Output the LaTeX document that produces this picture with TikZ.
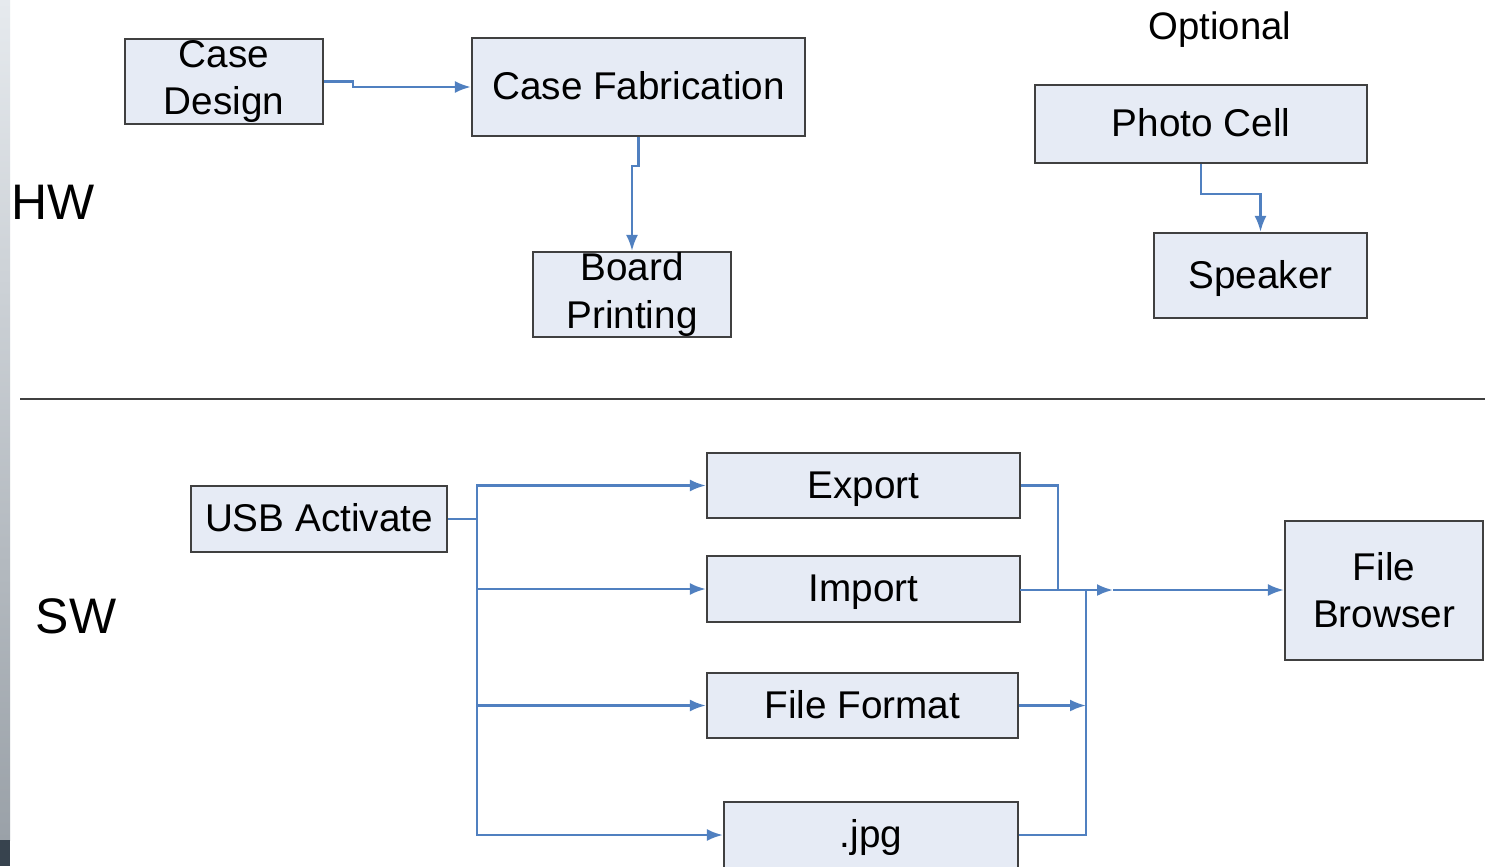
\documentclass[tikz,border=0pt]{standalone}
\usepackage{fontspec}
\setmainfont{Liberation Sans}
\usetikzlibrary{arrows.meta,positioning}
\definecolor{boxfill}{HTML}{E6EBF5}
\definecolor{boxline}{HTML}{404040}
\definecolor{linkblue}{HTML}{5080C0}
\definecolor{edgelight}{HTML}{E6EAEE}
\definecolor{edgegray}{HTML}{9AA1A8}
\definecolor{edgedark}{HTML}{37434E}

\tikzset{
  block/.style={draw=boxline,fill=boxfill,line width=0.6pt,inner sep=0pt,
    align=center,font=\fontsize{11}{13.4}\selectfont},
  oneline/.style={text height=9.2pt,text depth=2pt},
  link/.style={draw=linkblue,line width=0.7pt},
  tip/.style={-{Latex[length=1.6mm,width=1.2mm]}},
  side/.style={inner sep=0pt,font=\fontsize{14.2}{16}\selectfont}
}

\begin{document}
\begin{tikzpicture}[x=0.01cm,y=-0.01cm]
\useasboundingbox (0,0) rectangle (1485,866);
\clip (0,0) rectangle (1485,866);
\fill[white] (0,0) rectangle (1485,866);
% slide edge
\shade[top color=edgelight,bottom color=edgegray] (0,0) rectangle (10,840);
\fill[edgedark] (0,840) rectangle (10,866);

% hardware
\node[side] (hw) at (53,202) {HW};
\node[inner sep=0pt,oneline,font=\fontsize{10.9}{13}\selectfont] (optional) at (1220,27) {Optional};
\node[block,minimum width=1.98cm,minimum height=0.85cm] (casedesign) at (224,81.5) {Case\\Design};
\node[block,oneline,minimum width=3.33cm,minimum height=0.98cm] (casefab) at (638.5,87) {Case Fabrication};
\node[block,minimum width=1.98cm,minimum height=0.85cm] (board) at (632,294.5) {Board\\Printing};
\node[block,oneline,minimum width=3.32cm,minimum height=0.78cm] (photocell) at (1201,124) {Photo Cell};
\node[block,oneline,minimum width=2.13cm,minimum height=0.85cm] (speaker) at (1260.5,275.5) {Speaker};

\draw[link,tip] (casedesign.east) -- ++(29,0) |- (casefab.west);
\draw[link,tip] (casefab.south) -- ++(0,29) -| (board.north);
\draw[link,tip] (photocell.south) -- ++(0,30) -| (speaker.north);

% divider
\coordinate (divL) at (20,399);
\coordinate (divR) at (1485,399);
\draw[boxline,line width=0.6pt] (divL) -- (divR);

% software
\node[side] (sw) at (76,616) {SW};
\node[block,oneline,minimum width=2.56cm,minimum height=0.66cm] (usb) at (319,519) {USB Activate};
\node[block,oneline,minimum width=3.13cm,minimum height=0.65cm] (export) at (863.5,485.5) {Export};
\node[block,oneline,minimum width=3.13cm,minimum height=0.66cm] (import) at (863.5,589) {Import};
\node[block,oneline,minimum width=3.11cm,minimum height=0.65cm] (format) at (862.5,705.5) {File Format};
\node[block,oneline,minimum width=2.94cm,minimum height=0.66cm] (jpg) at (871,835) {.jpg};
\node[block,minimum width=1.98cm,minimum height=1.39cm] (browser) at (1384,590.5) {File\\Browser};

\draw[link,tip] (usb.east) -- ++(29,0) |- (export.west);
\draw[link,tip] (usb.east) -- ++(29,0) |- (import.west);
\draw[link,tip] (usb.east) -- ++(29,0) |- (format.west);
\draw[link,tip] (usb.east) -- ++(29,0) |- (jpg.west);

\coordinate (dropA) at (1058,590);
\coordinate (busTop) at (1086,590);
\coordinate (midTip) at (1113,590);
\draw[link] (export.east) -| (dropA);
\draw[link,tip] (import.east) -- (import.east |- midTip) -- (midTip);
\draw[link,tip] (midTip) -- (midTip -| browser.west);
\draw[link,tip] (format.east) -- (format.east -| busTop);
\draw[link] (jpg.east) -| (busTop);
\end{tikzpicture}
\end{document}
